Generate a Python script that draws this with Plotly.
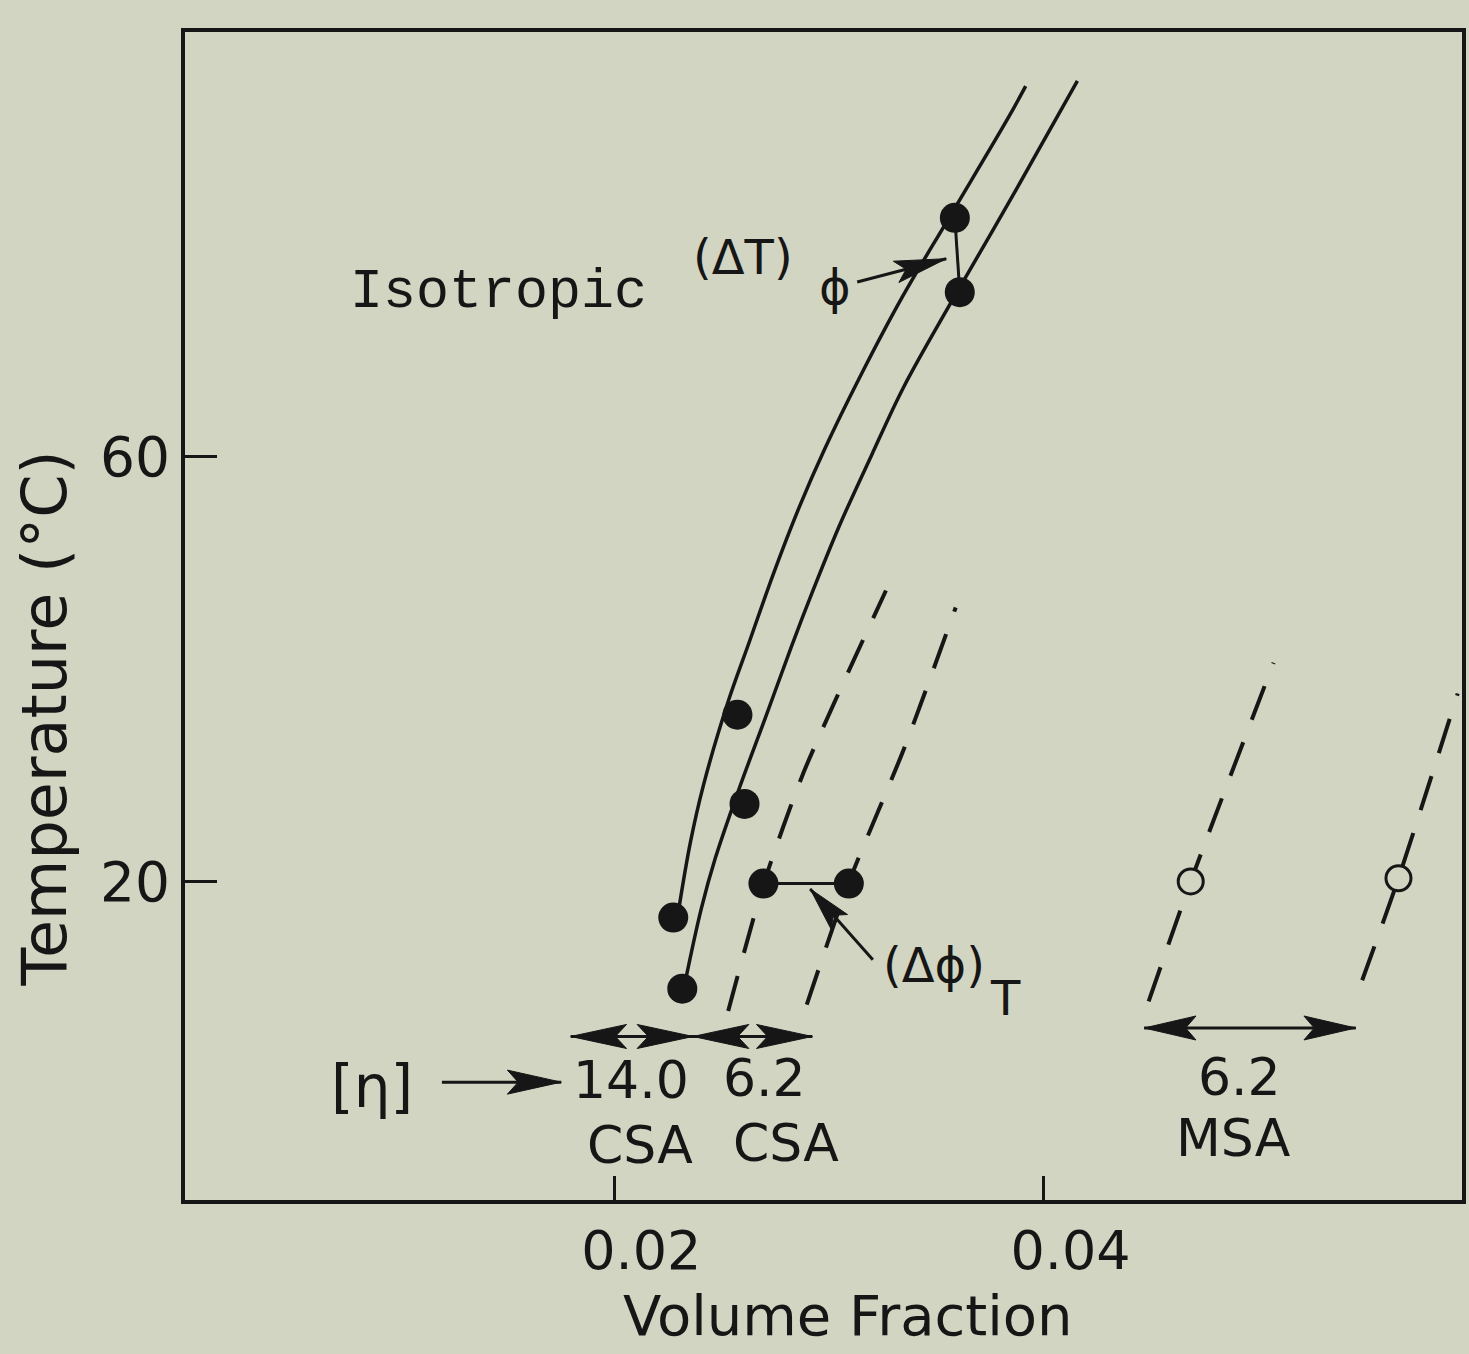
import math
import plotly.graph_objects as go

# ---------------- data ----------------
# [eta] = 14.0, CSA : boundaries of the biphasic gap (solid curves)
csa14_iso_phi = [0.0230, 0.02355, 0.02416, 0.0253, 0.0263, 0.02742, 0.02863, 0.0298, 0.03147,
                 0.03341, 0.0356, 0.03838, 0.03917]
csa14_iso_T = [17.3, 23.7, 29.1, 36.9, 42.6, 49.0, 55.3, 60.7, 67.6, 75.0, 82.5, 92.0, 94.9]
csa14_ani_phi = [0.0233, 0.02405, 0.02471, 0.02583, 0.02704, 0.02825, 0.02928, 0.03049, 0.03198,
                 0.03347, 0.0356, 0.0386, 0.04158]
csa14_ani_T = [10.5, 17.4, 22.2, 28.8, 35.4, 42.1, 47.5, 53.5, 60.1, 66.5, 74.2, 84.7, 95.4]
csa14_pts_phi = [0.02275, 0.02317, 0.02574, 0.02607, 0.03587, 0.0361]
csa14_pts_T = [16.6, 9.9, 35.7, 27.3, 82.5, 75.5]

# [eta] = 6.2, CSA (dashed)
csa62_iso_phi = [0.02531, 0.02695, 0.02883, 0.03266]
csa62_iso_T = [7.8, 19.7, 30.3, 47.4]
csa62_ani_phi = [0.02897, 0.03093, 0.03354, 0.03591]
csa62_ani_T = [8.4, 19.9, 32.7, 45.8]
csa62_pts_phi = [0.02695, 0.03093]
csa62_pts_T = [19.8, 19.8]

# [eta] = 6.2, MSA (dashed, open circles)
msa62_iso_phi = [0.0449, 0.04686, 0.05072]
msa62_iso_T = [8.7, 20.0, 40.6]
msa62_ani_phi = [0.05485, 0.05654, 0.0593]
msa62_ani_T = [10.7, 20.3, 37.7]
msa62_pts_phi = [0.04686, 0.05654]
msa62_pts_T = [20.0, 20.3]

# [eta] labels and the phi spans of their arrows
eta_values = ["14.0", "6.2", "6.2"]
polymers = ["CSA", "CSA", "MSA"]
eta_span_lo = [0.01797, 0.02367, 0.04469]
eta_span_hi = [0.02367, 0.02923, 0.05455]
eta_span_T = [5.4, 5.4, 6.2]

x_ticks = [0.02, 0.04]
x_ticktext = ["0.02", "0.04"]
y_ticks = [20, 60]
y_ticktext = ["20", "60"]

# ---------------- layout geometry ----------------
W_FIG, H_FIG = 1469, 1354
ML, MR, MT, MB = 185, 3, 32, 154
X0, X1 = 0.0, 0.0595
Y0, Y1 = -10.0, 100.0
PW = W_FIG - ML - MR
PH = H_FIG - MT - MB

INK = "#161616"
BG = "#d2d5c1"
FONT = "DejaVu Sans"


def to_px(x, y):
    return ML + (x - X0) / (X1 - X0) * PW, MT + (Y1 - y) / (Y1 - Y0) * PH


def to_data(px, py):
    return X0 + (px - ML) / PW * (X1 - X0), Y1 - (py - MT) / PH * (Y1 - Y0)


def head_polygon(tip, tail, L, Hh, notch=0.8):
    tx, ty = to_px(*tip)
    sx, sy = to_px(*tail)
    dx, dy = tx - sx, ty - sy
    n = math.hypot(dx, dy)
    ux, uy = dx / n, dy / n
    nx, ny = -uy, ux
    pts_px = [
        (tx, ty),
        (tx - L * ux + Hh * nx, ty - L * uy + Hh * ny),
        (tx - notch * L * ux, ty - notch * L * uy),
        (tx - L * ux - Hh * nx, ty - L * uy - Hh * ny),
        (tx, ty),
    ]
    pts = [to_data(p, q) for p, q in pts_px]
    return [p[0] for p in pts], [p[1] for p in pts]


fig = go.Figure()


def add_line(xs, ys, dash=None, width=3, shape="spline", smoothing=1.0):
    fig.add_trace(go.Scatter(
        x=xs, y=ys, mode="lines",
        line=dict(color=INK, width=width, dash=dash, shape=shape, smoothing=smoothing),
        hoverinfo="skip", showlegend=False))


def add_head(tip, tail, L, Hh):
    hx, hy = head_polygon(tip, tail, L, Hh)
    fig.add_trace(go.Scatter(
        x=hx, y=hy, mode="lines", fill="toself", fillcolor=INK,
        line=dict(color=INK, width=1), hoverinfo="skip", showlegend=False))


def add_arrow(tail, tip, L, Hh, width=3, both=False):
    fig.add_trace(go.Scatter(
        x=[tail[0], tip[0]], y=[tail[1], tip[1]], mode="lines",
        line=dict(color=INK, width=width), hoverinfo="skip", showlegend=False))
    add_head(tip, tail, L, Hh)
    if both:
        add_head(tail, tip, L, Hh)


# solid curves (14.0 CSA)
add_line(csa14_iso_phi, csa14_iso_T, width=3.5)
add_line(csa14_ani_phi, csa14_ani_T, width=3.5)
# dashed curves (6.2 CSA, 6.2 MSA)
for xs, ys in [(csa62_iso_phi, csa62_iso_T), (csa62_ani_phi, csa62_ani_T),
               (msa62_iso_phi, msa62_iso_T), (msa62_ani_phi, msa62_ani_T)]:
    add_line(xs, ys, dash="36px,24px", width=4, smoothing=0.7)

# (Delta T)_phi connector and (Delta phi)_T connector
add_line([csa14_pts_phi[4], csa14_pts_phi[5]], [csa14_pts_T[4], csa14_pts_T[5]], width=3, shape="linear")
add_line(csa62_pts_phi, csa62_pts_T, width=3, shape="linear")

# filled points
fig.add_trace(go.Scatter(
    x=csa14_pts_phi + csa62_pts_phi, y=csa14_pts_T + csa62_pts_T, mode="markers",
    marker=dict(size=30, color=INK, line=dict(width=0)),
    hoverinfo="skip", showlegend=False))
# open points
fig.add_trace(go.Scatter(
    x=msa62_pts_phi, y=msa62_pts_T, mode="markers",
    marker=dict(size=25, color=BG, line=dict(width=3, color=INK)),
    hoverinfo="skip", showlegend=False))

# [eta] span arrows (double headed)
for lo, hi, t in zip(eta_span_lo, eta_span_hi, eta_span_T):
    add_arrow((lo, t), (hi, t), L=56 if hi - lo < 0.007 else 52, Hh=12, width=3, both=True)

# pointer arrows
add_arrow((0.03132, 76.45), (0.03547, 78.65), L=52, Hh=11)   # (dT)_phi
add_arrow((0.03205, 12.62), (0.02913, 19.3), L=44, Hh=11)    # (dphi)_T
add_arrow((0.01197, 1.1), (0.01753, 1.1), L=54, Hh=12)       # [eta]

annotations = []


def txt(x, y, s, size, family=FONT, xref="x", yref="y", angle=0):
    annotations.append(dict(
        x=x, y=y, xref=xref, yref=yref, text=s, showarrow=False,
        font=dict(family=family, size=size, color=INK),
        xanchor="center", yanchor="middle", textangle=angle))


txt(0.0146, 75.5, "Isotropic", 55, family="Liberation Mono")
txt(0.02600, 78.8, "(ΔT)", 48)
txt(0.03030, 76.0, "ϕ", 48)
txt(0.03492, 12.1, "(Δϕ)", 48)
txt(0.03823, 9.0, "T", 48)
txt(0.00870, 0.6, "[η]", 58)

label_x_eta = [0.02077, 0.02702, 0.04911]
label_T_eta = [1.3, 1.5, 1.6]
label_x_pol = [0.02118, 0.02798, 0.04883]
label_T_pol = [-4.8, -4.6, -4.2]
for i in range(3):
    txt(label_x_eta[i], label_T_eta[i], eta_values[i], 52)
    txt(label_x_pol[i], label_T_pol[i], polymers[i], 52)

# axis titles (placed in pixels relative to the plot frame)
tx_px, ty_px = 850, 1315
txt((tx_px - ML) / PW, 1 - (ty_px - MT) / PH, "Volume Fraction", 56, xref="paper", yref="paper")
yx_px, yy_px = 44, 718
txt((yx_px - ML) / PW, 1 - (yy_px - MT) / PH, "Temperature (°C)", 62, xref="paper", yref="paper", angle=-90)

fig.update_layout(
    width=W_FIG, height=H_FIG,
    margin=dict(l=ML, r=MR, t=MT, b=MB, pad=0),
    paper_bgcolor=BG, plot_bgcolor=BG,
    annotations=annotations,
    showlegend=False,
    xaxis=dict(range=[X0, X1], tickvals=x_ticks, ticktext=x_ticktext,
               ticks="inside", ticklen=24, tickwidth=3, tickcolor=INK,
               showline=True, linewidth=4, linecolor=INK, mirror=True,
               showgrid=False, zeroline=False,
               tickfont=dict(family=FONT, size=54, color=INK),
               ticklabelshift=27, ticklabelstandoff=0),
    yaxis=dict(range=[Y0, Y1], tickvals=y_ticks, ticktext=y_ticktext,
               ticks="inside", ticklen=32, tickwidth=3, tickcolor=INK,
               showline=True, linewidth=4, linecolor=INK, mirror=True,
               showgrid=False, zeroline=False,
               tickfont=dict(family=FONT, size=55, color=INK),
               ticklabelstandoff=0),
)

fig.write_html("out.html")
